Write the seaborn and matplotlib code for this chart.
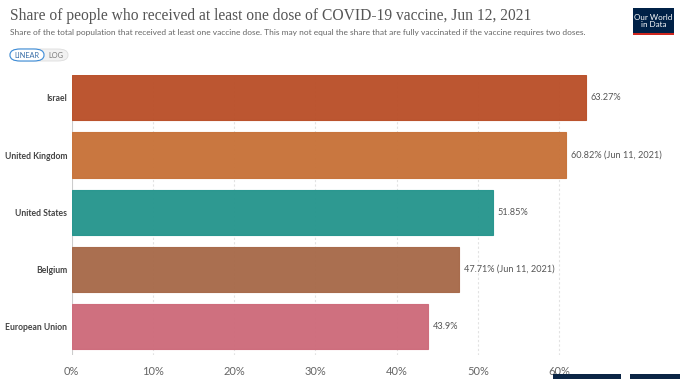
import matplotlib.pyplot as plt
import seaborn as sns
import pandas as pd
from matplotlib.patches import FancyBboxPatch, Rectangle

countries = ["Israel", "United Kingdom", "United States", "Belgium", "European Union"]
share = [63.27, 60.82, 51.85, 47.71, 43.9]
labels = ["63.27%", "60.82% (Jun 11, 2021)", "51.85%", "47.71% (Jun 11, 2021)", "43.9%"]
colors = ["#BA502A", "#C8733A", "#27968E", "#A76A4A", "#CE6B7B"]
ticks = [0, 10, 20, 30, 40, 50, 60]

df = pd.DataFrame({"country": countries, "share": share})

sns.set_style("white")
plt.rcParams["font.family"] = ["Lato", "DejaVu Sans"]

fig = plt.figure(figsize=(6.8, 3.79), dpi=100)
ax = fig.add_axes([71.5 / 680, 24 / 379, 569 / 680, 280 / 379])

sns.barplot(data=df, x="share", y="country", hue="country", palette=colors,
            legend=False, width=0.79, ax=ax, edgecolor="none", saturation=1)
for p, c in zip(ax.patches, colors):
    p.set_edgecolor(c)
    p.set_linewidth(0.8)
    p.set_alpha(0.97)

for i, (v, t) in enumerate(zip(share, labels)):
    ax.text(v + 0.6, i, t, va="center", ha="left", fontsize=6.6, color="#555555")

ax.set_xlim(0, 70)
ax.set_ylim(4.5, -0.4)
ax.set_xticks(ticks)
ax.set_xticklabels([f"{t}%" for t in ticks], color="#666666", fontsize=8)
ax.tick_params(axis="x", length=0, pad=8)
ax.tick_params(axis="y", length=0, pad=3)
for lab in ax.get_yticklabels():
    lab.set_fontsize(6.2)
    lab.set_color("#444444")
    lab.set_fontweight("bold")
for t in ticks[1:]:
    ax.axvline(t, color="#E2E2E2", linestyle=(0, (2, 2)), linewidth=0.8, zorder=0)
ax.axvline(0, color="#CCCCCC", linewidth=0.8, zorder=0)
ax.set_xlabel("")
ax.set_ylabel("")
sns.despine(ax=ax, left=True, bottom=True)

fig.text(10 / 680, 1 - 16 / 379, "Share of people who received at least one dose of COVID-19 vaccine, Jun 12, 2021",
         fontsize=11.2, color="#555555", family=["Liberation Serif", "DejaVu Serif"], va="center")
fig.text(10 / 680, 1 - 32 / 379, "Share of the total population that received at least one vaccine dose. "
         "This may not equal the share that are fully vaccinated if the vaccine requires two doses.",
         fontsize=6.0, color="#666666", va="center")

# logo
fig.patches.append(Rectangle((633 / 680, 1 - 35 / 379), 41 / 680, 27 / 379, transform=fig.transFigure,
                             facecolor="#002147", edgecolor="none"))
fig.patches.append(Rectangle((633 / 680, 1 - 35 / 379), 41 / 680, 2 / 379, transform=fig.transFigure,
                             facecolor="#CE261E", edgecolor="none"))
fig.text(653.5 / 680, 1 - 21 / 379, "Our World\nin Data", color="white", fontsize=5.8,
         ha="center", va="center", linespacing=1.0)

# linear/log toggle
fig.patches.append(FancyBboxPatch((10 / 680, 1 - 61 / 379), 58 / 680, 12 / 379, transform=fig.transFigure,
                                  boxstyle="round,pad=0,rounding_size=0.015", facecolor="#F2F2F2",
                                  edgecolor="#DDDDDD", linewidth=0.6))
fig.patches.append(FancyBboxPatch((10 / 680, 1 - 61 / 379), 34 / 680, 12 / 379, transform=fig.transFigure,
                                  boxstyle="round,pad=0,rounding_size=0.015", facecolor="white",
                                  edgecolor="#3C8CD8", linewidth=0.8))
fig.text(27 / 680, 1 - 55 / 379, "LINEAR", fontsize=5.3, color="#3A6FA8", ha="center", va="center")
fig.text(56 / 680, 1 - 55 / 379, "LOG", fontsize=5.3, color="#777777", ha="center", va="center")

# partial buttons at bottom right
fig.patches.append(Rectangle((553 / 680, 0), 68 / 680, 5 / 379, transform=fig.transFigure,
                             facecolor="#0B2545", edgecolor="none"))
fig.patches.append(Rectangle((630 / 680, 0), 50 / 680, 5 / 379, transform=fig.transFigure,
                             facecolor="#0B2545", edgecolor="none"))

fig.savefig("out.png", dpi=100)
